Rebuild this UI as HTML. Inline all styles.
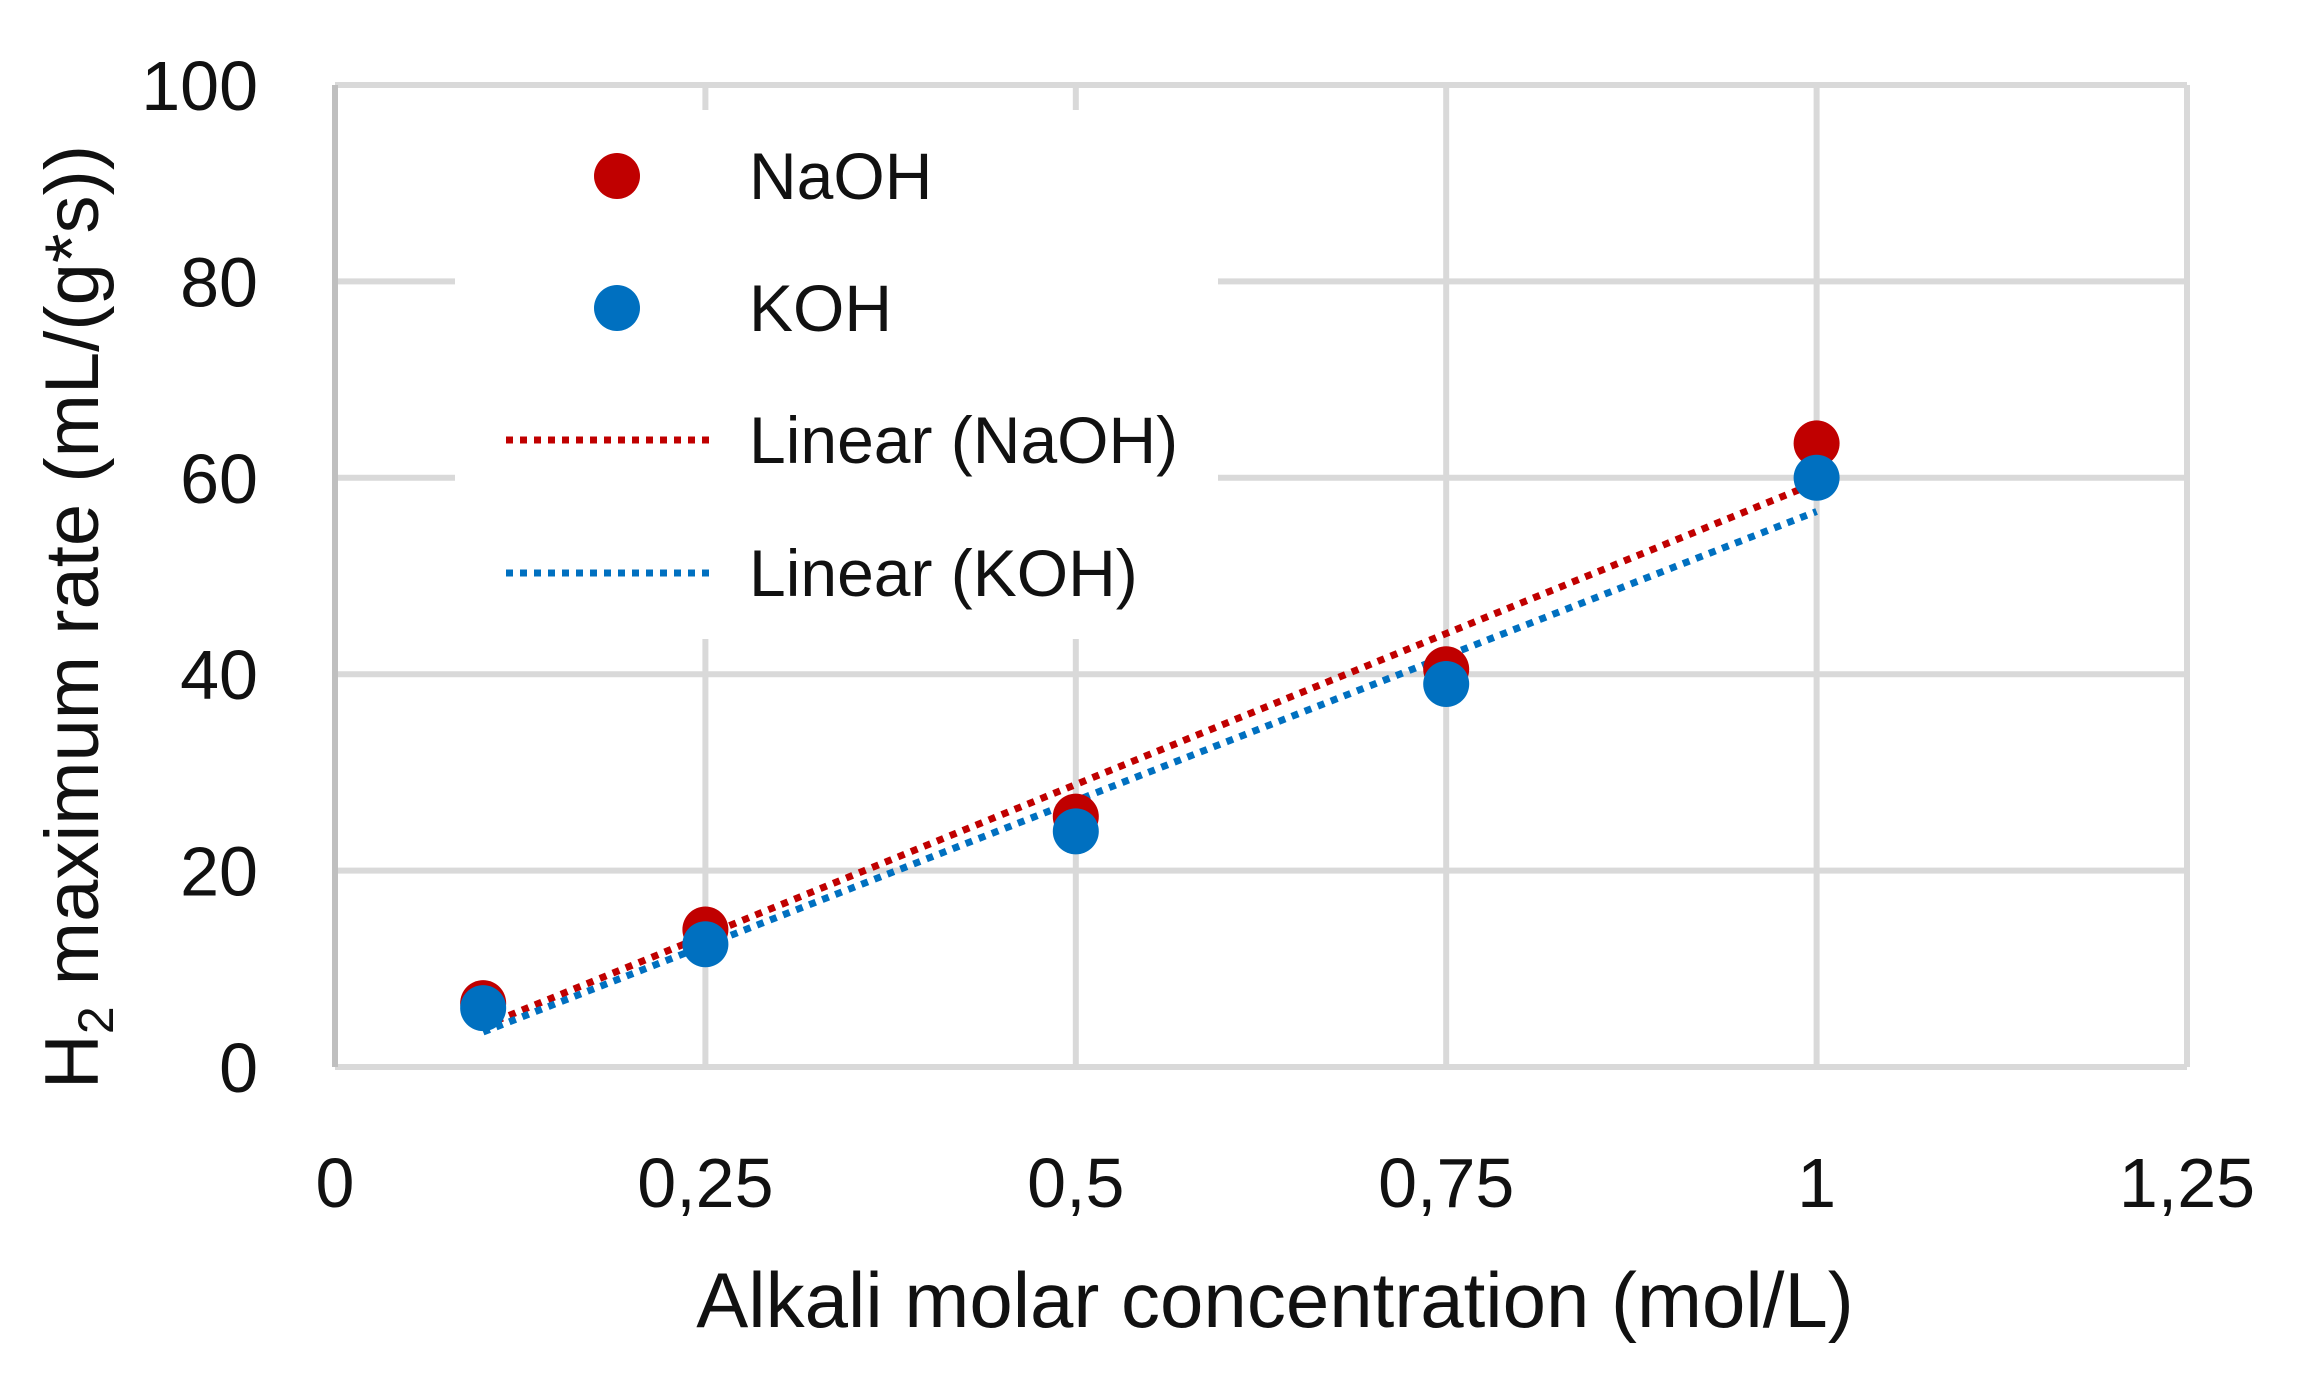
<!DOCTYPE html>
<html><head><meta charset="utf-8"><style>
html,body{margin:0;padding:0;background:#fff;}
svg{display:block;font-family:"Liberation Sans",sans-serif;}
</style></head><body>
<svg id="chart" width="2302" height="1394" viewBox="0 0 2302 1394" xmlns="http://www.w3.org/2000/svg">
<g id="grid"></g>
<g id="trend"></g>
<g id="pts"></g>
<g id="ticks"></g>
<rect x="455" y="110" width="763" height="529" fill="#fff"/>
<g font-size="66" fill="#111">
 <circle cx="617" cy="176" r="23" fill="#c00000"/>
 <text x="749" y="199">NaOH</text>
 <circle cx="617" cy="308" r="23" fill="#0070c0"/>
 <text x="749" y="331">KOH</text>
 <line x1="506" y1="440" x2="712" y2="440" stroke="#c00000" stroke-width="7" stroke-dasharray="7 7"/>
 <text x="749" y="463">Linear (NaOH)</text>
 <line x1="506" y1="573" x2="712" y2="573" stroke="#0070c0" stroke-width="7" stroke-dasharray="7 7"/>
 <text x="749" y="596">Linear (KOH)</text>
</g>
<text x="1275" y="1327" font-size="78" text-anchor="middle" fill="#111">Alkali molar concentration (mol/L)</text>
<text transform="translate(98,617) rotate(-90)" font-size="76" text-anchor="middle" fill="#111">H<tspan font-size="50" dy="15">2</tspan><tspan dy="-15"> maximum rate (mL/(g*s))</tspan></text>
<script>
const xCats=[0.1,0.25,0.5,0.75,1];
const naoh=[6.5,14,25.5,40.5,63.5];
const koh=[6,12.5,24,39,60];
const xTicks=[0,0.25,0.5,0.75,1,1.25];
const xTickLabels=["0","0,25","0,5","0,75","1","1,25"];
const yTicks=[0,20,40,60,80,100];
const yTickLabels=["0","20","40","60","80","100"];
const NS="http://www.w3.org/2000/svg";
const X=v=>335+v*(2187-335)/1.25;
const Y=v=>1067-v*(1067-85)/100;
function mk(p,t,a){const e=document.createElementNS(NS,t);for(const k in a)e.setAttribute(k,a[k]);document.getElementById(p).appendChild(e);return e;}
xTicks.forEach((t,i)=>{
 const l=mk('grid','line',{x1:X(t),x2:X(t),y1:Y(0),y2:Y(100),stroke:'#d9d9d9','stroke-width':6});
 
 
 const tx=mk('ticks','text',{x:X(t),y:1207,'font-size':70,'text-anchor':'middle',fill:'#111'});
 tx.textContent=xTickLabels[i];
 
 
});
yTicks.forEach((t,i)=>{
 const l=mk('grid','line',{x1:X(0),x2:X(1.25),y1:Y(t),y2:Y(t),stroke:'#d9d9d9','stroke-width':6});
 
 
 const tx=mk('ticks','text',{x:258,y:Y(t)+25,'font-size':70,'text-anchor':'end',fill:'#111'});
 tx.textContent=yTickLabels[i];
 
 
});
const ax=mk('grid','line',{x1:X(0),x2:X(0),y1:Y(0),y2:Y(100),stroke:'#bfbfbf','stroke-width':6});


function fit(ys){const n=xCats.length;const mx=xCats.reduce((a,b)=>a+b)/n,my=ys.reduce((a,b)=>a+b)/n;let sxy=0,sxx=0;xCats.forEach((x,i)=>{sxy+=(x-mx)*(ys[i]-my);sxx+=(x-mx)*(x-mx);});const b=sxy/sxx;return [b,my-b*mx];}
[[naoh,'#c00000','naoh'],[koh,'#0070c0','koh']].forEach(([ys,c,n])=>{
 const [b,a]=fit(ys);const x0=xCats[0],x1=xCats[xCats.length-1];
 const l=mk('trend','line',{x1:X(x0),y1:Y(a+b*x0),x2:X(x1),y2:Y(a+b*x1),stroke:c,'stroke-width':7,'stroke-dasharray':'7 7'});
 
 
});
[[naoh,'#c00000','naoh'],[koh,'#0070c0','koh']].forEach(([ys,c,n])=>{
 ys.forEach((v,i)=>{
  const p=mk('pts','circle',{cx:X(xCats[i]),cy:Y(v),r:23,fill:c});
  
  
 });
});
</script>
</svg>
</body></html>
